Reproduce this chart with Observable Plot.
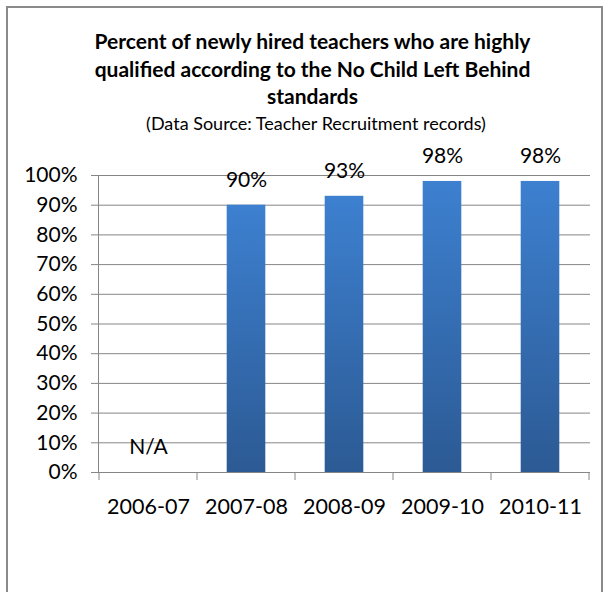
<!DOCTYPE html>
<html><head><meta charset="utf-8">
<script src="https://cdn.jsdelivr.net/npm/d3@7"></script>
<script src="https://cdn.jsdelivr.net/npm/@observablehq/plot@0.6"></script>
<style>
body{margin:0;background:#fff;font-family:Lato,"Open Sans",sans-serif;color:#000;}
#frame{position:absolute;left:6px;top:6px;width:597px;height:640px;border:2px solid #8a8a8a;box-sizing:border-box;}
#title{position:absolute;left:0;top:27px;width:625px;text-align:center;font-weight:bold;font-size:21px;line-height:27.5px;}
#subtitle{position:absolute;left:0;top:113px;width:632px;text-align:center;font-size:18px;line-height:1.2;}
#chart{position:absolute;left:0;top:0;}
</style></head>
<body>
<div id="frame"></div>
<div id="title">Percent of newly hired teachers who are highly<br>qualified according to the No Child Left Behind<br>standards</div>
<div id="subtitle">(Data Source: Teacher Recruitment records)</div>
<div id="chart"></div>
<script>
const years = ["2006-07", "2007-08", "2008-09", "2009-10", "2010-11"];
const values = [null, 0.90, 0.93, 0.98, 0.98];
const valueLabels = ["N/A", "90%", "93%", "98%", "98%"];
const yTicks = [0, 0.1, 0.2, 0.3, 0.4, 0.5, 0.6, 0.7, 0.8, 0.9, 1.0];

const data = years.map((year, i) => ({year, value: values[i], label: valueLabels[i]}));

const gradientDefs = () => {
  const defs = d3.create("svg:defs");
  const g = defs.append("linearGradient").attr("id", "barGrad")
    .attr("x1", 0).attr("y1", 0).attr("x2", 0).attr("y2", 1);
  g.append("stop").attr("offset", "0%").attr("stop-color", "#3d80d0");
  g.append("stop").attr("offset", "100%").attr("stop-color", "#2c5a94");
  return defs.node();
};

const boundaryTicks = (index, scales, values, dim) => {
  const x = scales.x, y = scales.y;
  const bw = typeof x.bandwidth === "function" ? x.bandwidth() : x.bandwidth;
  const y0 = y(0);
  const g = d3.create("svg:g").attr("stroke", "#868686");
  const xs = years.map(d => x(d));
  xs.push(x(years[years.length - 1]) + bw);
  for (const px of xs) {
    g.append("line").attr("x1", px).attr("x2", px).attr("y1", y0).attr("y2", y0 + 8);
  }
  return g.node();
};

const chart = Plot.plot({
  width: 610,
  height: 592,
  marginTop: 175,
  marginBottom: 120,
  marginLeft: 98,
  marginRight: 20,
  style: {background: "transparent", fontFamily: "Lato, 'Open Sans', sans-serif", color: "#000"},
  x: {domain: years, padding: 0},
  y: {domain: [0, 1]},
  marks: [
    gradientDefs,
    Plot.ruleY(yTicks, {stroke: "#868686", strokeOpacity: 1}),
    Plot.axisY({ticks: yTicks, tickFormat: d3.format(".0%"), tickSize: 7, tickPadding: 14, stroke: "#868686", fill: "#000", fontSize: 21, label: null}),
    Plot.frame({anchor: "left", stroke: "#868686"}),
    boundaryTicks,
    Plot.barY(data.filter(d => d.value != null), {x: "year", y: "value", fill: "url(#barGrad)", insetLeft: 29.7, insetRight: 29.7}),
    Plot.text(data, {x: "year", y: d => d.value ?? 0, text: "label", dy: -25, fontSize: 21, fill: "#000"}),
    Plot.axisX({tickSize: 0, tickPadding: 26, fontSize: 21.5, fill: "#000", label: null})
  ]
});
document.getElementById("chart").append(chart);
</script>
</body></html>
